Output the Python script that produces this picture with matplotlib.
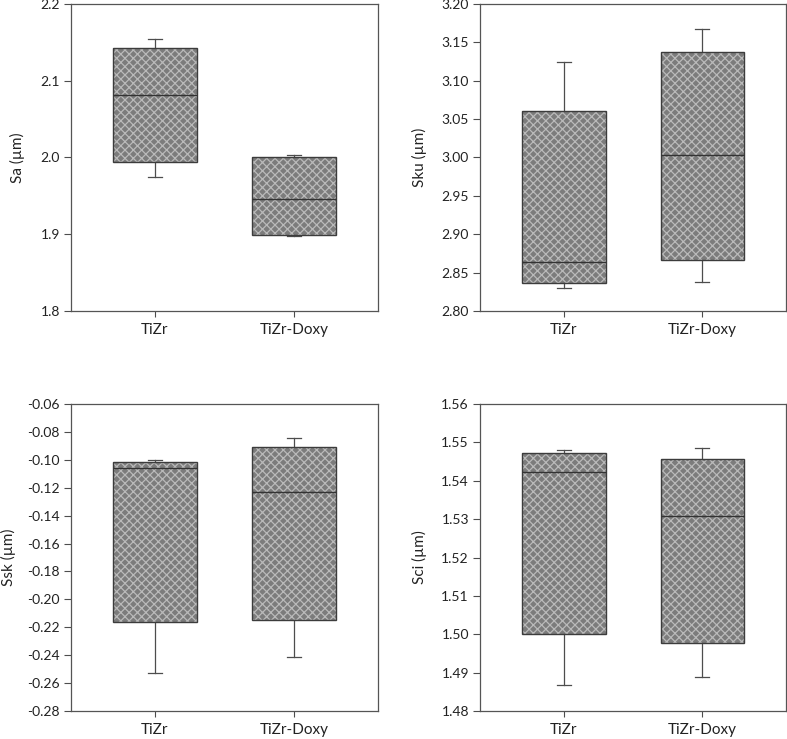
import matplotlib
matplotlib.use("Agg")
import matplotlib.pyplot as plt
import numpy as np
from matplotlib.patches import PathPatch
from matplotlib.ticker import FormatStrFormatter

plt.rcParams["font.family"] = ["Lato", "DejaVu Sans"]
plt.rcParams["hatch.linewidth"] = 0.9

# Groups
groups = ["TiZr", "TiZr-Doxy"]

# Box summaries: (whisker low, Q1, median, Q3, whisker high)
sa_stats  = [(1.974, 1.9945, 2.082, 2.143, 2.154),
             (1.8977, 1.899, 1.9455, 2.000, 2.003)]
sku_stats = [(2.830, 2.8365, 2.8634, 3.0606, 3.124),
             (2.8374, 2.867, 3.0037, 3.138, 3.167)]
ssk_stats = [(-0.2525, -0.2164, -0.1061, -0.1015, -0.1002),
             (-0.2413, -0.2147, -0.1227, -0.0908, -0.0844)]
sci_stats = [(1.4868, 1.500, 1.5422, 1.5473, 1.5481),
             (1.4888, 1.4976, 1.5309, 1.5457, 1.5485)]

panels = [
    ("Sa (\u00b5m)",  sa_stats,  (1.8, 2.2),    np.arange(1.8, 2.21, 0.1),     "%.1f"),
    ("Sku (\u00b5m)", sku_stats, (2.8, 3.2),    np.arange(2.8, 3.201, 0.05),   "%.2f"),
    ("Ssk (\u00b5m)", ssk_stats, (-0.28, -0.06), np.arange(-0.28, -0.059, 0.02), "%.2f"),
    ("Sci (\u00b5m)", sci_stats, (1.48, 1.56),  np.arange(1.48, 1.5601, 0.01), "%.2f"),
]

# axes rectangles in figure fractions (left, bottom, width, height)
rects = [
    (0.0902, 0.5792, 0.390, 0.4154),
    (0.6099, 0.5792, 0.389, 0.4154),
    (0.0902, 0.0379, 0.390, 0.4154),
    (0.6099, 0.0379, 0.389, 0.4154),
]
# y-label x position in axes fraction
label_x = [-0.150, -0.173, -0.178, -0.173]

fig = plt.figure(figsize=(7.87, 7.39), dpi=100)
txt = "#222222"
line = "#4d4d4d"

for (ylabel, stats, ylim, yticks, fmt), rect, lx in zip(panels, rects, label_x):
    ax = fig.add_axes(rect)
    bstats = []
    for name, (lo, q1, med, q3, hi) in zip(groups, stats):
        bstats.append(dict(label=name, whislo=lo, q1=q1, med=med, q3=q3,
                           whishi=hi, fliers=[]))
    bp = ax.bxp(bstats, positions=[1, 2], widths=0.604, patch_artist=True,
                showfliers=False, capwidths=0.1,
                boxprops=dict(facecolor="#7c7c7c", edgecolor="#bababa",
                              hatch="xxxx", linewidth=0),
                medianprops=dict(color="#333333", linewidth=1.0),
                whiskerprops=dict(color=line, linewidth=0.9),
                capprops=dict(color=line, linewidth=0.9))
    for box in bp["boxes"]:
        ax.add_patch(PathPatch(box.get_path(), fill=False,
                               edgecolor="#3c3c3c", linewidth=1.0, zorder=3))
    for m in bp["medians"]:
        m.set_zorder(4)

    ax.set_xlim(0.396, 2.604)
    ax.set_ylim(*ylim)
    ax.set_yticks(yticks)
    ax.yaxis.set_major_formatter(FormatStrFormatter(fmt))
    ax.set_ylabel(ylabel, fontsize=11, color=txt)
    ax.yaxis.set_label_coords(lx, 0.5)
    ax.tick_params(axis="y", direction="out", length=5, width=0.8,
                   color=line, labelsize=10, labelcolor=txt, pad=3)
    ax.tick_params(axis="x", direction="out", length=4, width=0.8,
                   color=line, labelsize=11, labelcolor=txt, pad=5)
    for sp in ax.spines.values():
        sp.set_color("#555555")
        sp.set_linewidth(0.9)

fig.savefig("out.png", dpi=100)
